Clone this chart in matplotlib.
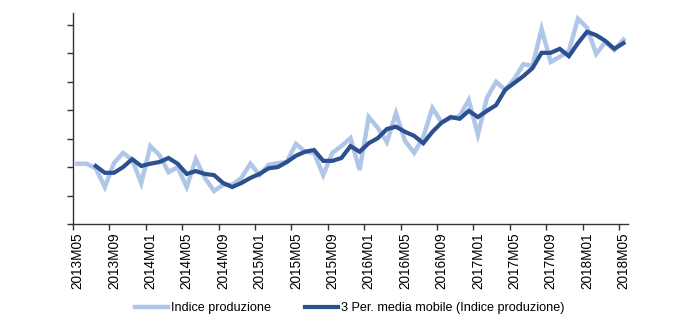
import matplotlib
matplotlib.use("Agg")
import matplotlib.pyplot as plt
import numpy as np

# ---- data ----
months = []
for y in range(2013, 2019):
    for m in range(1, 13):
        if (y == 2013 and m < 5) or (y == 2018 and m > 5):
            continue
        months.append(f"{y}M{m:02d}")

indice = [90.6, 90.6, 89.8, 86.5, 90.7, 92.5, 91.3, 87.2, 93.7, 92.1,
          89.1, 90.0, 86.5, 91.4, 88.1, 85.8, 86.9, 86.9, 88.1, 90.6,
          88.6, 90.4, 90.7, 90.9, 94.1, 92.7, 92.5, 88.6, 92.5, 93.7,
          95.1, 89.5, 98.8, 96.9, 94.4, 99.5, 94.6, 92.5, 95.3, 100.4,
          97.9, 98.6, 99.0, 101.8, 95.7, 102.2, 105.0, 103.6, 105.5, 108.1,
          107.8, 114.3, 108.5, 109.4, 110.4, 116.1, 114.5, 109.9, 112.0, 110.6,
          112.4]

media_mobile = [None, None, 90.2, 89.0, 89.0, 90.0, 91.4, 90.2, 90.6, 90.9,
                91.6, 90.6, 88.8, 89.3, 88.8, 88.6, 87.2, 86.5, 87.2, 88.1,
                88.8, 89.8, 90.0, 90.9, 92.0, 92.7, 93.0, 91.1, 91.1, 91.6,
                93.7, 92.7, 94.2, 95.1, 96.7, 97.1, 96.2, 95.5, 94.2, 96.2,
                97.8, 98.8, 98.5, 99.9, 98.8, 99.9, 100.9, 103.6, 104.8, 106.0,
                107.4, 110.1, 110.1, 110.8, 109.5, 111.8, 113.8, 113.2, 112.2, 110.8,
                111.8]

series_names = ["Indice produzione", "3 Per. media mobile (Indice produzione)"]
y_ticks = [80, 85, 90, 95, 100, 105, 110, 115]

plt.rcParams['font.family'] = ['Liberation Sans', 'DejaVu Sans']

light = "#AFC6E9"
dark = "#2C4F8F"

fig = plt.figure(figsize=(7.0, 3.28), dpi=100)
ax = fig.add_axes([73/700, 1 - 224/328, 555/700, 211/328])

x = np.arange(len(months))
ax.plot(x, indice, color=light, lw=3.2, solid_joinstyle='miter', label=series_names[0])
mm = np.array([np.nan if v is None else v for v in media_mobile], dtype=float)
ax.plot(x, mm, color=dark, lw=3.0, solid_joinstyle='miter', label=series_names[1])

ax.set_xlim(-0.5, len(months) - 0.5)
ax.set_ylim(80, 117.1)

for s in ['top', 'right']:
    ax.spines[s].set_visible(False)
for s in ['left', 'bottom']:
    ax.spines[s].set_color('#333333')
    ax.spines[s].set_linewidth(1.0)

ax.set_yticks(y_ticks)
ax.set_yticklabels([])
ax.tick_params(axis='y', direction='out', length=4, width=1, color='#333333')

# ticks at category boundaries, labels at category centers
ax.set_xticks(np.arange(-0.5, len(months), 4))
ax.set_xticklabels([])
ax.tick_params(axis='x', which='major', direction='out', length=4, width=1, color='#333333')
lab_pos = np.arange(0, len(months), 4)
ax.set_xticks(lab_pos, minor=True)
ax.set_xticklabels([months[i] for i in lab_pos], minor=True, rotation=90, fontsize=9.8)
ax.tick_params(axis='x', which='minor', length=0, pad=6)

fig.legend(loc='center', bbox_to_anchor=(0.5, 1 - 308/328), ncol=2, frameon=False,
           fontsize=9.1, handlelength=2.6, handletextpad=0.25, columnspacing=2.7)

fig.savefig("out.png", dpi=100)
